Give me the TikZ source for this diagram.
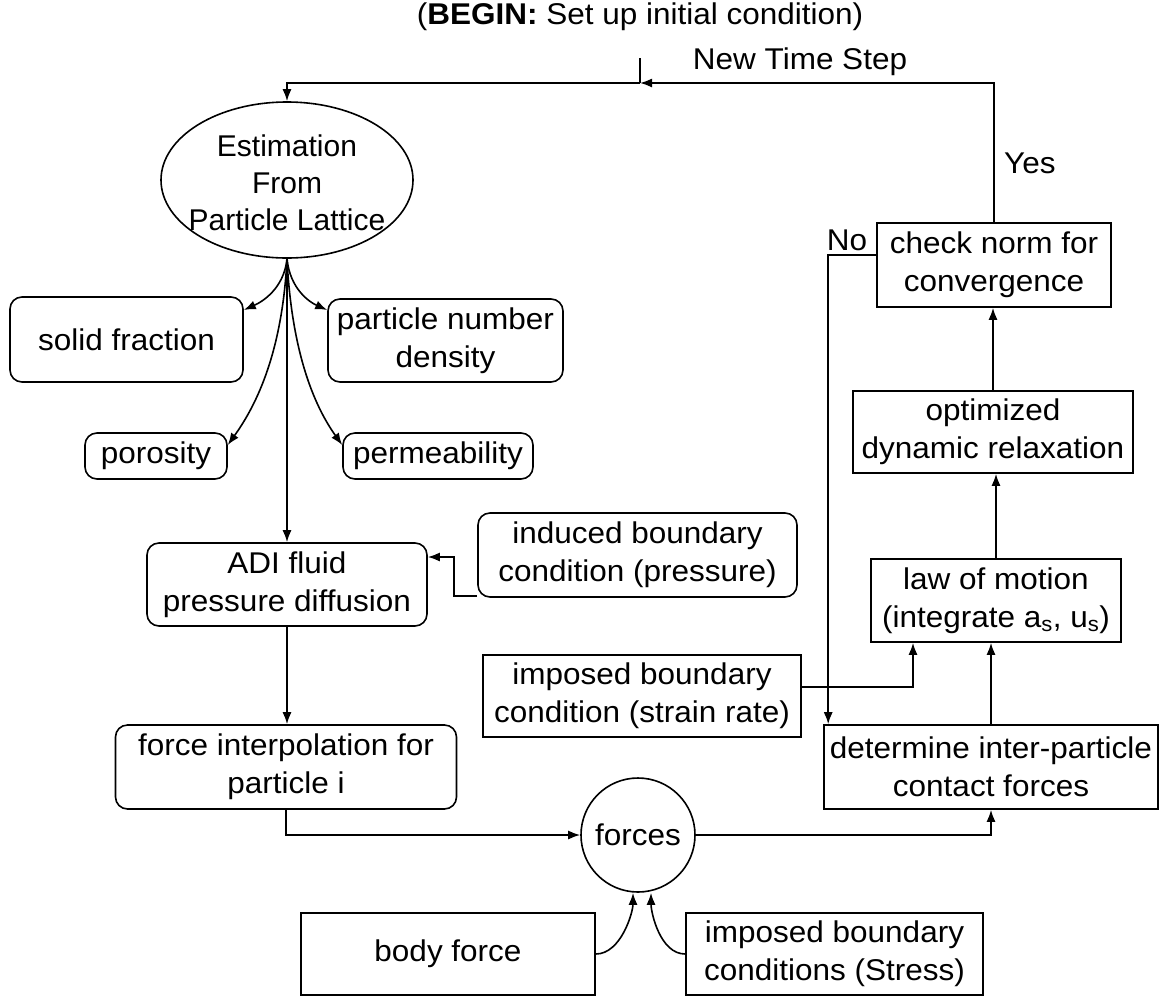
\documentclass[tikz,border=0pt]{standalone}
\usepackage{fontspec}
\setmainfont{Liberation Sans}[FakeStretch=1.05]
\newfontfamily\plainsans{Liberation Sans}
\usetikzlibrary{arrows.meta,shapes.geometric}
\begin{document}
\begin{tikzpicture}[x=1pt,y=-1pt,
  every node/.style={font=\fontsize{30}{38}\selectfont, align=center, inner sep=0pt},
  ln/.style={line width=1.6pt},
  >={Latex[length=12pt,width=9pt]},
  rbox/.style={draw, ln, rounded corners=12pt},
  sbox/.style={draw, ln},
  lbl/.style={font=\fontsize{30}{38}\selectfont}
]
\useasboundingbox (0,0) rectangle (1162,997);

% title and entry
\node[lbl] (title) at (640,17) {(\textbf{BEGIN:} Set up initial condition)};
\coordinate (ticktop) at (640,58);
\coordinate (tick) at (640,83);

% left column
\node[draw, ln, ellipse, minimum width=252, minimum height=156] (est) at (287,180) {};
\node[font=\plainsans\fontsize{30}{37}\selectfont] (esttext) at (287,183) {Estimation\\From\\Particle Lattice};
\node[rbox, minimum width=233, minimum height=85] (solid) at (126.5,339.5) {solid fraction};
\node[rbox, minimum width=235, minimum height=83] (particle) at (445.5,340.5) {particle number\\density};
\node[rbox, minimum width=142, minimum height=46] (poro) at (156,456) {porosity};
\node[rbox, minimum width=190, minimum height=46] (perm) at (438,456) {permeability};
\node[rbox, minimum width=280, minimum height=83] (adi) at (287,584.5) {ADI fluid\\pressure diffusion};
\node[rbox, minimum width=319, minimum height=84] (induced) at (637.5,555) {induced boundary\\condition (pressure)};
\node[rbox, minimum width=341, minimum height=84] (finterp) at (286,767) {force interpolation for\\particle i};
\node[draw, ln, circle, minimum size=114] (forces) at (638,835) {forces};
\node[sbox, minimum width=294, minimum height=82] (body) at (448,954) {body force};
\node[sbox, minimum width=297, minimum height=82] (stress) at (834.5,954) {imposed boundary\\conditions (Stress)};

% right column
\node[sbox, minimum width=318, minimum height=82] (strain) at (642,696) {imposed boundary\\condition (strain rate)};
\node[sbox, minimum width=334, minimum height=84] (determine) at (991,767) {determine inter-particle\\contact forces};
\node[sbox, minimum width=250, minimum height=83] (law) at (996,600.5) {law of motion\\(integrate a\textsubscript{s}, u\textsubscript{s})};
\node[sbox, minimum width=280, minimum height=82] (opt) at (993,432) {optimized\\dynamic relaxation};
\node[sbox, minimum width=234, minimum height=84] (check) at (994,265) {check norm for\\convergence};

% labels
\node[lbl] (newstep) at (800,62) {New Time Step};
\node[lbl, anchor=west] (yes) at (1004,163) {Yes};
\node[lbl] (no) at (847,240) {No};

% connectors
\draw[ln] (ticktop) -- (tick);
\draw[ln,->] (tick) -| (est.north);
\draw[ln,->] (check.north) |- (tick);

\draw[ln,->] (est.south) .. controls +(-3,30) and +(18,-8) .. ([yshift=29.5pt]solid.east);
\draw[ln,->] (est.south) .. controls +(3,30) and +(-18,-8) .. ([yshift=30.5pt]particle.west);
\draw[ln,->] (est.south) .. controls +(-5,100) and +(25,-35) .. ([yshift=11pt]poro.east);
\draw[ln,->] (est.south) .. controls +(5,100) and +(-25,-35) .. ([yshift=11pt]perm.west);
\draw[ln,->] (est.south) -- (adi.north);

\draw[ln,->] ([yshift=2pt]induced.south west) -- ++(-23,0) |- ([yshift=27.5pt]adi.east);
\draw[ln,->] (adi.south) -- (adi.south |- finterp.north);
\draw[ln,->] (finterp.south) |- (forces.west);
\draw[ln,->] (forces.east) -| (determine.south);
\draw[ln,->] (body.east) .. controls +(25,0) and +(0,20) .. ([xshift=-5pt]forces.south);
\draw[ln,->] (stress.west) .. controls +(-25,0) and +(0,20) .. ([xshift=13pt]forces.south);

\draw[ln,->] (determine.north) -- (determine.north |- law.south);
\draw[ln,->] ([yshift=9pt]strain.east) -| ([xshift=-83pt]law.south);
\draw[ln,->] (law.north) -- (law.north |- opt.south);
\draw[ln,->] (opt.north) -- (opt.north |- check.south);
\draw[ln,->] ([yshift=10pt]check.west) -| ([xshift=5pt]determine.north west);
\end{tikzpicture}
\end{document}
